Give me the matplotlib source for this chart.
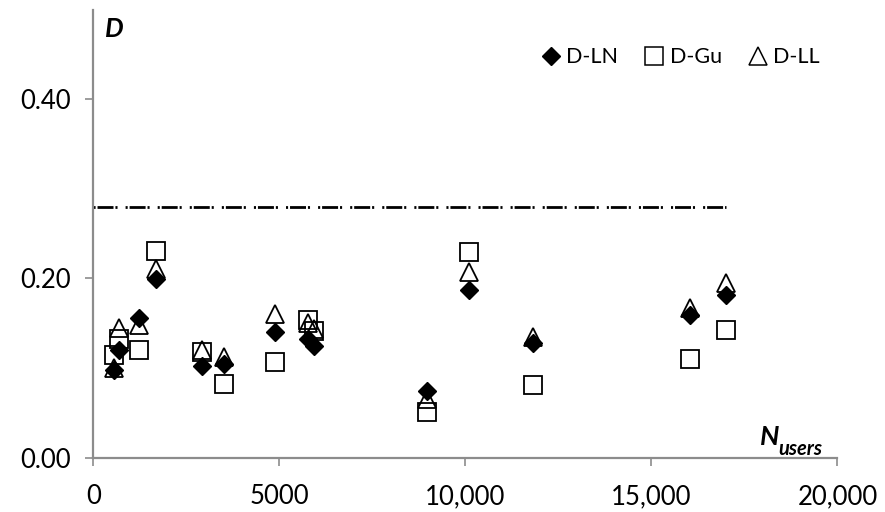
import matplotlib
matplotlib.use("Agg")
import matplotlib.pyplot as plt
from matplotlib.lines import Line2D

plt.rcParams['font.family'] = ['Lato', 'DejaVu Sans']
plt.rcParams['lines.scale_dashes'] = False

# Number of users per system
n_users = [565, 700, 1237, 1690, 2930, 3520, 4890, 5780, 5940,
           8980, 10100, 11830, 16050, 17010]

# Distance statistic D for each fitted distribution
d_ln = [0.098, 0.120, 0.156, 0.199, 0.102, 0.104, 0.140, 0.132, 0.124,
        0.074, 0.187, 0.128, 0.159, 0.182]
d_gu = [0.115, 0.132, 0.120, 0.231, 0.118, 0.082, 0.107, 0.154, 0.141,
        0.051, 0.229, 0.081, 0.110, 0.142]
d_ll = [0.100, 0.145, 0.148, 0.211, 0.120, 0.112, 0.160, 0.150, 0.143,
        0.065, 0.207, 0.135, 0.167, 0.195]

# Critical value line
crit_x = [0, 17000]
crit_d = [0.28, 0.28]

x_ticks = [0, 5000, 10000, 15000, 20000]
x_tick_labels = ['0', '5000', '10,000', '15,000', '20,000']
y_ticks = [0.0, 0.2, 0.4]
y_tick_labels = ['0.00', '0.20', '0.40']

fig = plt.figure(figsize=(8.85, 5.12), dpi=100)
ax = fig.add_axes([0.1054, 0.1064, 0.8409, 0.8745])

axis_grey = '#8c8c8c'

ax.plot(crit_x, crit_d, color='black', lw=2.0, solid_capstyle='butt',
        dash_capstyle='butt',
        linestyle=(0, (1.5, 1.4, 11.5, 1.4, 1.5, 5.8)), zorder=1)

ax.plot(n_users, d_gu, linestyle='none', marker='s', ms=12.5,
        mfc='none', mec='black', mew=1.3, label='D-Gu', zorder=2)
ax.plot(n_users, d_ll, linestyle='none', marker='^', ms=12.5,
        mfc='none', mec='black', mew=1.3, label='D-LL', zorder=3)
ax.plot(n_users, d_ln, linestyle='none', marker='D', ms=9,
        mfc='black', mec='black', mew=1.0, label='D-LN', zorder=4)

ax.set_xlim(0, 20000)
ax.set_ylim(0, 0.5)
ax.set_xticks(x_ticks)
ax.set_xticklabels(x_tick_labels)
ax.set_yticks(y_ticks)
ax.set_yticklabels(y_tick_labels)

for side in ('top', 'right'):
    ax.spines[side].set_visible(False)
for side in ('left', 'bottom'):
    ax.spines[side].set_color(axis_grey)
    ax.spines[side].set_linewidth(1.6)

ax.tick_params(axis='both', direction='out', length=6, width=1.2,
               color=axis_grey, labelsize=18.5, labelcolor='black')
ax.tick_params(axis='x', pad=13)
ax.tick_params(axis='y', pad=10)

handles = [
    Line2D([], [], linestyle='none', marker='D', ms=9, mfc='black', mec='black'),
    Line2D([], [], linestyle='none', marker='s', ms=12.5, mfc='none', mec='black', mew=1.1),
    Line2D([], [], linestyle='none', marker='^', ms=12.5, mfc='none', mec='black', mew=1.1),
]
ax.legend(handles, ['D-LN', 'D-Gu', 'D-LL'], loc='upper right',
          bbox_to_anchor=(0.988, 0.935), ncol=3, frameon=False,
          fontsize=15.5, handlelength=0.8, handletextpad=0.3,
          columnspacing=1.3, borderaxespad=0)

ax.text(0.016, 0.94, 'D', transform=ax.transAxes, fontsize=19,
        fontweight='bold', fontstyle='italic', va='baseline', ha='left')
ax.text(0.896, 0.028, 'N', transform=ax.transAxes, fontsize=19.5,
        fontweight='bold', fontstyle='italic', va='baseline', ha='left')
ax.text(0.921, 0.005, 'users', transform=ax.transAxes, fontsize=14.5,
        fontweight='bold', fontstyle='italic', va='baseline', ha='left')

fig.savefig('out.png', dpi=100)
